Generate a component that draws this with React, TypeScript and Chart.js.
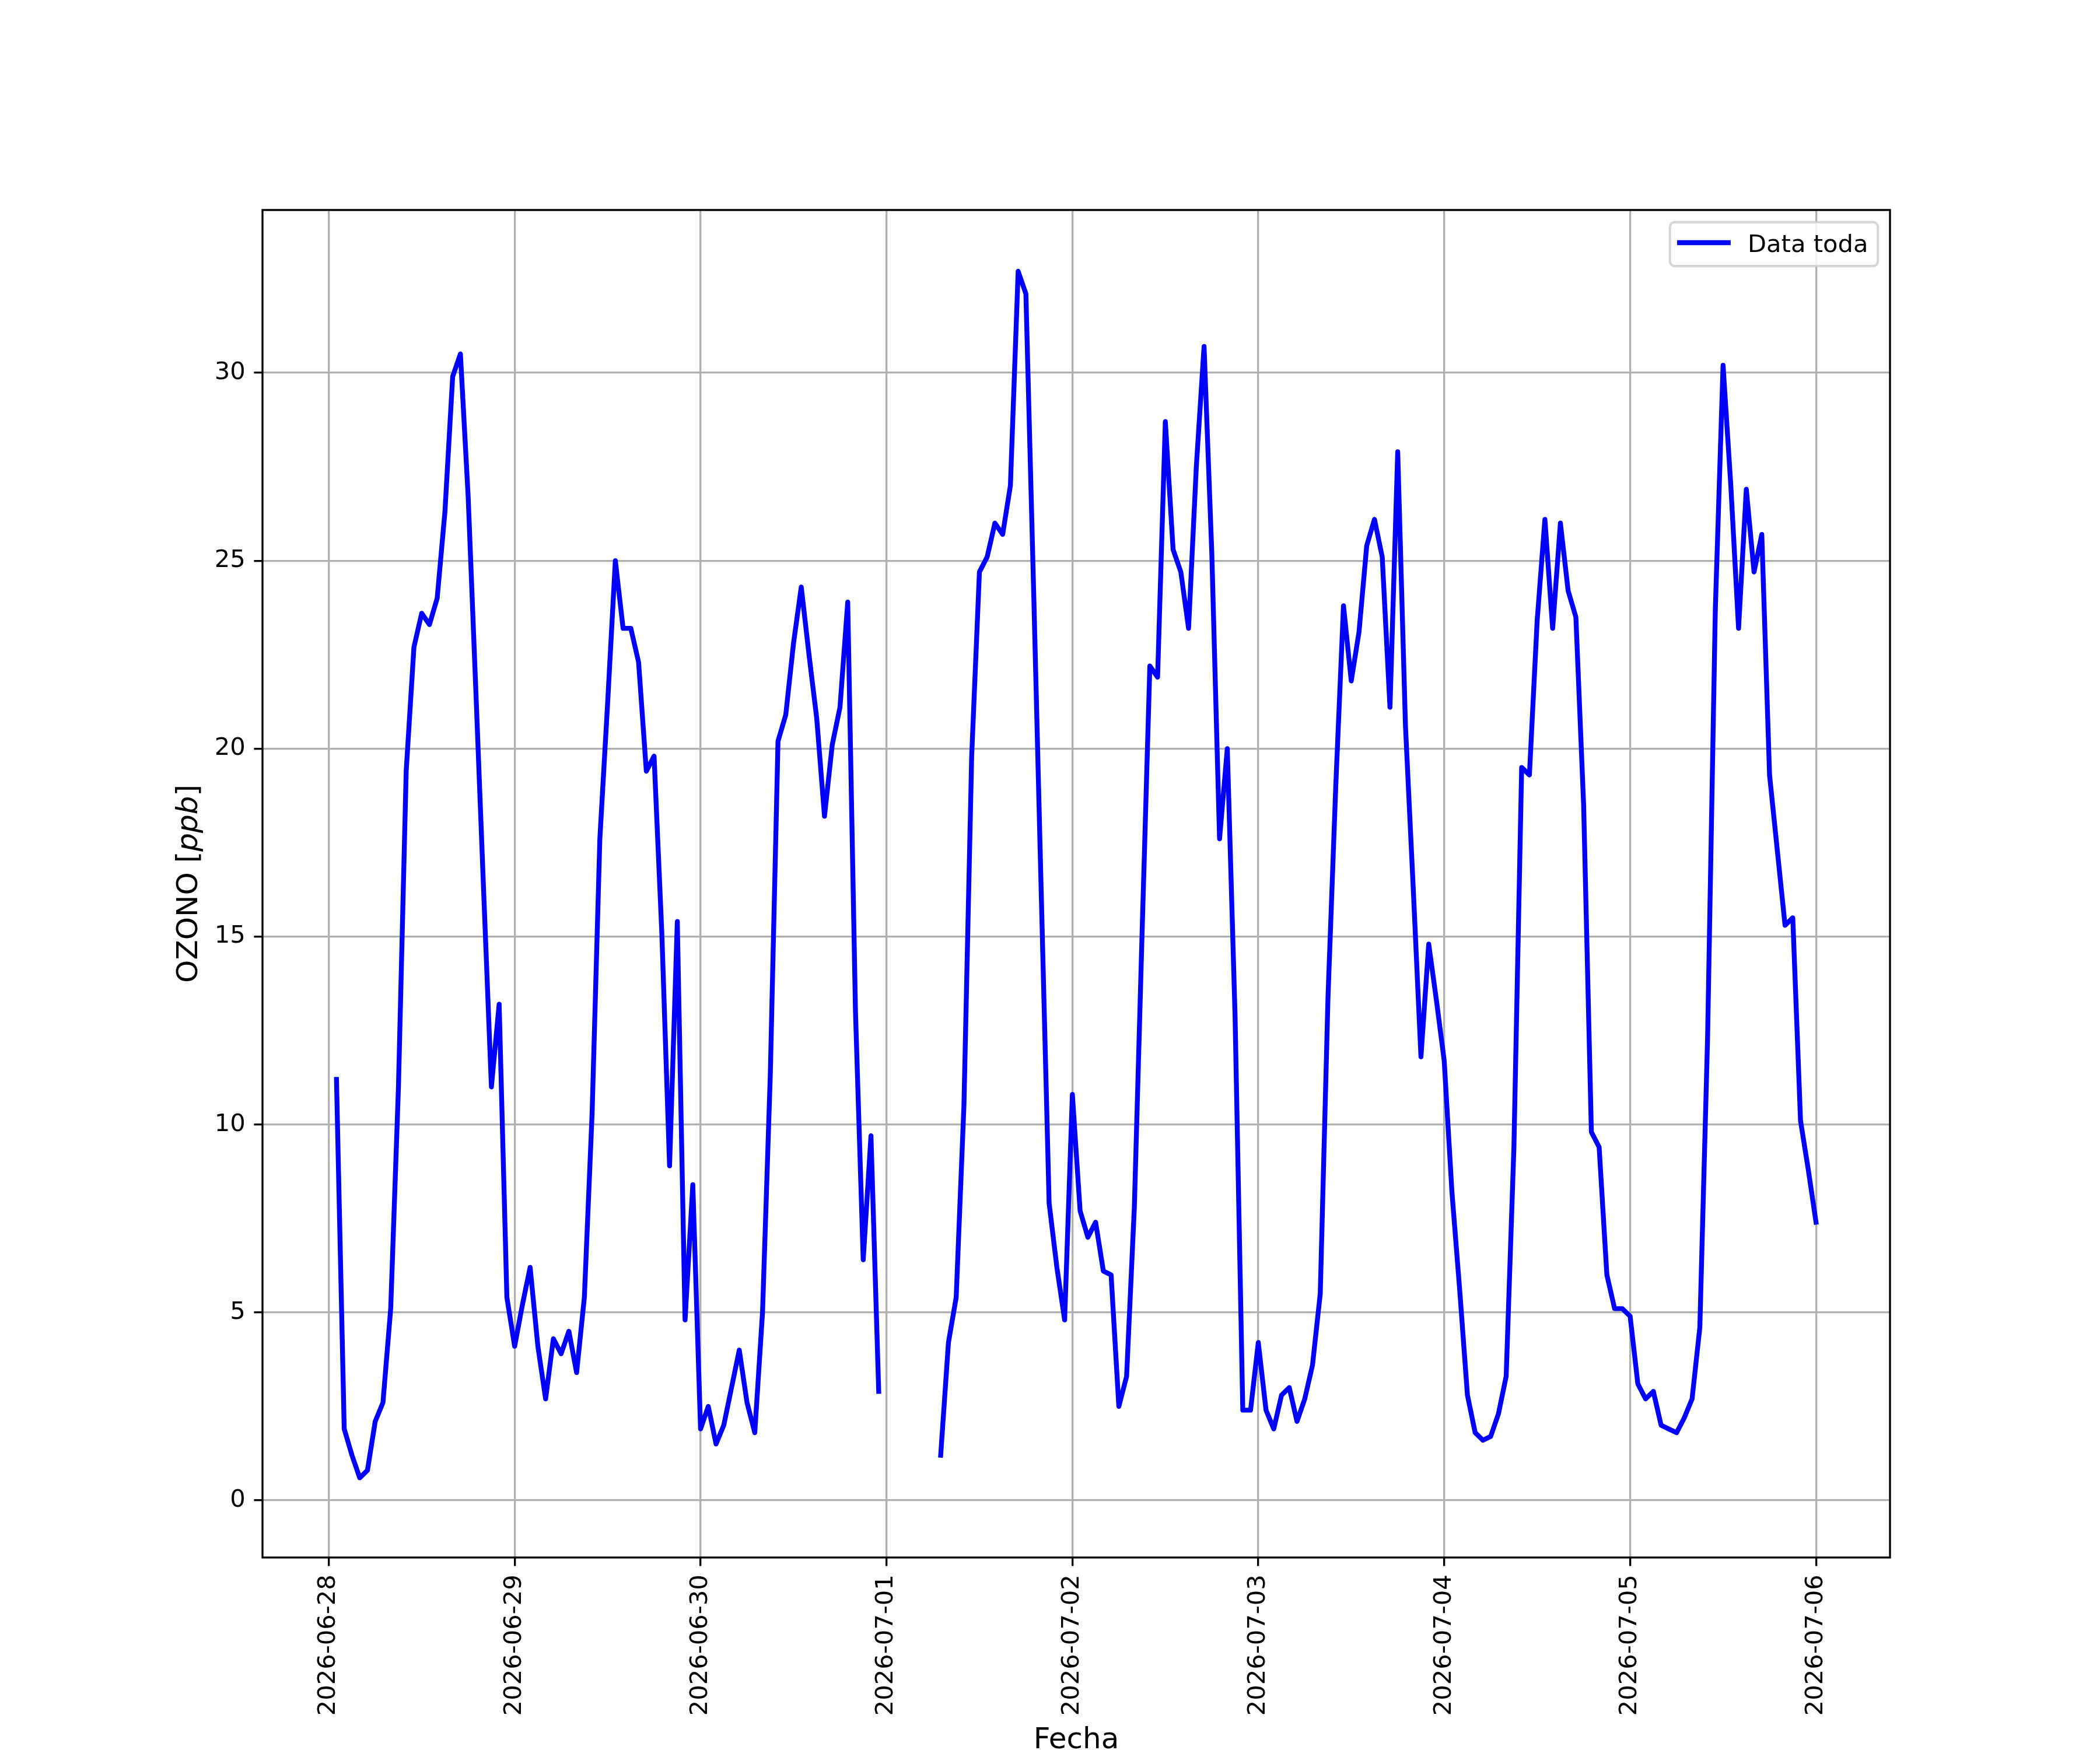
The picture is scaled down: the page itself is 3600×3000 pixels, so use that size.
import { useEffect, useRef } from 'react';
import { Chart, registerables } from 'chart.js';

Chart.register(...registerables);

// Hourly OZONO readings [ppb]; each array holds 01:00 ... 24:00 of that day
const ozone0628 = [11.2, 1.9, 1.2, 0.6, 0.8, 2.1, 2.6, 5.1, 11.0, 19.4, 22.7, 23.6, 23.3, 24.0, 26.3, 29.9, 30.5, 26.7, 21.5, 16.2, 11.0, 13.2, 5.4, 4.1];
const ozone0629 = [5.2, 6.2, 4.1, 2.7, 4.3, 3.9, 4.5, 3.4, 5.4, 10.3, 17.6, 21.2, 25.0, 23.2, 23.2, 22.3, 19.4, 19.8, 15.1, 8.9, 15.4, 4.8, 8.4, 1.9];
const ozone0630 = [2.5, 1.5, 2.0, 3.0, 4.0, 2.6, 1.8, 5.0, 11.3, 20.2, 20.9, 22.8, 24.3, 22.5, 20.8, 18.2, 20.1, 21.1, 23.9, 13.0, 6.4, 9.7, 2.9, null];
const ozone0701 = [null, null, null, null, null, null, 1.2, 4.2, 5.4, 10.5, 19.8, 24.7, 25.1, 26.0, 25.7, 27.0, 32.7, 32.1, 24.2, 16.0, 7.9, 6.2, 4.8, 10.8];
const ozone0702 = [7.7, 7.0, 7.4, 6.1, 6.0, 2.5, 3.3, 7.8, 15.1, 22.2, 21.9, 28.7, 25.3, 24.7, 23.2, 27.5, 30.7, 25.2, 17.6, 20.0, 12.9, 2.4, 2.4, 4.2];
const ozone0703 = [2.4, 1.9, 2.8, 3.0, 2.1, 2.7, 3.6, 5.5, 13.4, 19.0, 23.8, 21.8, 23.1, 25.4, 26.1, 25.1, 21.1, 27.9, 20.6, 16.3, 11.8, 14.8, 13.3, 11.7];
const ozone0704 = [8.2, 5.6, 2.8, 1.8, 1.6, 1.7, 2.3, 3.3, 9.4, 19.5, 19.3, 23.4, 26.1, 23.2, 26.0, 24.2, 23.5, 18.5, 9.8, 9.4, 6.0, 5.1, 5.1, 4.9];
const ozone0705 = [3.1, 2.7, 2.9, 2.0, 1.9, 1.8, 2.2, 2.7, 4.6, 12.3, 23.7, 30.2, 27.0, 23.2, 26.9, 24.7, 25.7, 19.3, 17.3, 15.3, 15.5, 10.1, 8.8, 7.4];

const days = [ozone0628, ozone0629, ozone0630, ozone0701, ozone0702, ozone0703, ozone0704, ozone0705];

// x is measured in hours after 2026-06-28 00:00
const firstHour = 1;
const xTickHours = [0, 24, 48, 72, 96, 120, 144, 168, 192];
const xTickLabels = ['2026-06-28', '2026-06-29', '2026-06-30', '2026-07-01', '2026-07-02', '2026-07-03', '2026-07-04', '2026-07-05', '2026-07-06'];
const yTickValues = [0, 5, 10, 15, 20, 25, 30];

const seriesLabel = 'Data toda';
const xTitle = 'Fecha';

// figure drawn at 300 dpi, sizes given in points
const pt = (n: number) => (n * 300) / 72;
const FONT = '"DejaVu Sans"';

const mplExtras = {
  id: 'mplExtras',
  afterDraw(chart: Chart) {
    const { ctx, chartArea: a } = chart;
    ctx.save();

    // spines
    ctx.strokeStyle = '#000';
    ctx.lineWidth = pt(0.8);
    ctx.strokeRect(a.left, a.top, a.right - a.left, a.bottom - a.top);

    // x label
    ctx.fillStyle = '#000';
    ctx.font = `${pt(12)}px ${FONT}`;
    ctx.textAlign = 'center';
    ctx.textBaseline = 'alphabetic';
    ctx.fillText(xTitle, (a.left + a.right) / 2, a.bottom + 327);

    // y label: OZONO [ppb] with italic ppb
    const parts = [
      { t: 'OZONO [', f: `${pt(12)}px ${FONT}` },
      { t: 'ppb', f: `italic ${pt(12)}px ${FONT}` },
      { t: ']', f: `${pt(12)}px ${FONT}` },
    ];
    let total = 0;
    const widths = parts.map((p) => {
      ctx.font = p.f;
      const w = ctx.measureText(p.t).width;
      total += w;
      return w;
    });
    ctx.translate(a.left - 112, (a.top + a.bottom) / 2);
    ctx.rotate(-Math.PI / 2);
    ctx.textAlign = 'left';
    let cx = -total / 2;
    parts.forEach((p, i) => {
      ctx.font = p.f;
      ctx.fillText(p.t, cx, 0);
      cx += widths[i];
    });
    ctx.setTransform(1, 0, 0, 1, 0, 0);

    // legend
    const fs = pt(10);
    ctx.font = `${fs}px ${FONT}`;
    const tw = ctx.measureText(seriesLabel).width;
    const w = 3.6 * fs + tw;
    const h = 1.807 * fs;
    const right = a.right - 0.5 * fs;
    const top = a.top + 0.5 * fs;
    const left = right - w;
    ctx.beginPath();
    ctx.roundRect(left, top, w, h, 0.2 * fs);
    ctx.fillStyle = 'rgba(255,255,255,0.8)';
    ctx.fill();
    ctx.strokeStyle = 'rgba(204,204,204,0.8)';
    ctx.lineWidth = pt(1);
    ctx.stroke();

    ctx.beginPath();
    ctx.moveTo(left + 0.4 * fs, top + 35.2);
    ctx.lineTo(left + 2.4 * fs, top + 35.2);
    ctx.strokeStyle = '#0000ff';
    ctx.lineWidth = pt(2);
    ctx.lineCap = 'square';
    ctx.stroke();

    ctx.fillStyle = '#000';
    ctx.textAlign = 'left';
    ctx.textBaseline = 'alphabetic';
    ctx.fillText(seriesLabel, left + 3.2 * fs, top + 51);

    ctx.restore();
  },
};

export default function App() {
  const canvasRef = useRef<HTMLCanvasElement>(null);

  useEffect(() => {
    const canvas = canvasRef.current;
    if (!canvas) return;

    const points = days.flat().map((v, i) => ({ x: firstHour + i, y: v }));

    const chart = new Chart(canvas, {
      type: 'line',
      data: {
        datasets: [
          {
            label: seriesLabel,
            data: points,
            borderColor: '#0000ff',
            borderWidth: pt(2),
            borderJoinStyle: 'round',
            borderCapStyle: 'square',
            pointRadius: 0,
            tension: 0,
            spanGaps: false,
            fill: false,
          },
        ],
      },
      options: {
        responsive: false,
        maintainAspectRatio: false,
        devicePixelRatio: 1,
        animation: false,
        layout: { padding: { top: 360, right: 360, left: 0, bottom: 0 } },
        plugins: {
          legend: { display: false },
          tooltip: { enabled: false },
        },
        scales: {
          x: {
            type: 'linear',
            min: -8.55,
            max: 201.55,
            afterBuildTicks: (scale) => {
              scale.ticks = xTickHours.map((v) => ({ value: v }));
            },
            afterFit: (scale) => {
              scale.height = 330;
            },
            ticks: {
              autoSkip: false,
              minRotation: 90,
              maxRotation: 90,
              padding: pt(3.5),
              color: '#000',
              font: { family: 'DejaVu Sans', size: pt(10) },
              callback: (_value, index) => xTickLabels[index],
            },
            grid: {
              color: '#b0b0b0',
              lineWidth: pt(0.8),
              tickColor: '#000',
              tickWidth: pt(0.8),
              tickLength: pt(3.5),
            },
            border: { display: false },
          },
          y: {
            type: 'linear',
            min: -1.52,
            max: 34.33,
            afterBuildTicks: (scale) => {
              scale.ticks = yTickValues.map((v) => ({ value: v }));
            },
            afterFit: (scale) => {
              scale.width = 450;
            },
            ticks: {
              padding: pt(3.5),
              color: '#000',
              font: { family: 'DejaVu Sans', size: pt(10) },
            },
            grid: {
              color: '#b0b0b0',
              lineWidth: pt(0.8),
              tickColor: '#000',
              tickWidth: pt(0.8),
              tickLength: pt(3.5),
            },
            border: { display: false },
          },
        },
      },
      plugins: [mplExtras],
    });

    return () => {
      chart.destroy();
    };
  }, []);

  return (
    <div style={{ position: 'absolute', left: 0, top: 0, width: 3600, height: 3000, background: '#ffffff' }}>
      <canvas ref={canvasRef} width={3600} height={3000} style={{ width: 3600, height: 3000, display: 'block' }} />
    </div>
  );
}
